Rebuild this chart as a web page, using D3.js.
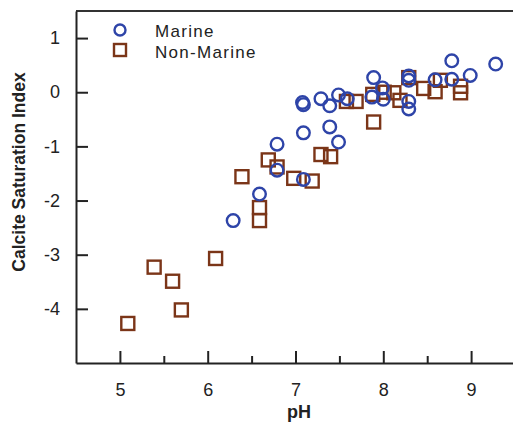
<!DOCTYPE html>
<meta charset="utf-8">
<style>
body { margin: 0; background: #fff; }
text { font-family: "Liberation Sans", Arial, sans-serif; fill: #222; }
.axis path, .axis line { stroke: #222; stroke-width: 2px; }
.axis text { font-size: 18px; }
</style>
<body>
<script src="https://d3js.org/d3.v7.min.js"></script>
<script>

// Marine samples (pH, calcite saturation index)
var marinePH = [6.29, 6.59, 6.79, 6.79, 7.09, 7.09, 7.08, 7.09, 7.29, 7.39, 7.39, 7.49, 7.49, 7.59,
                7.89, 7.87, 7.99, 8.00, 8.29, 8.29, 8.29, 8.29, 8.59, 8.78, 8.78, 8.99, 9.28];
var marineSI = [-2.37, -1.88, -0.96, -1.44, -1.61, -0.75, -0.19, -0.23, -0.12, -0.25, -0.64, -0.92, -0.05, -0.12,
                0.27, -0.09, 0.08, -0.13, 0.30, 0.22, -0.17, -0.31, 0.23, 0.58, 0.24, 0.31, 0.52];

// Non-marine samples
var nonMarinePH = [5.09, 5.39, 5.60, 5.70, 6.09, 6.39, 6.59, 6.59, 6.69, 6.79, 6.98, 7.19, 7.29, 7.40,
                   7.58, 7.69, 7.89, 7.88, 8.01, 8.12, 8.19, 8.29, 8.46, 8.59, 8.65, 8.88, 8.88];
var nonMarineSI = [-4.27, -3.23, -3.49, -4.02, -3.07, -1.56, -2.13, -2.37, -1.25, -1.38, -1.59, -1.64, -1.15, -1.19,
                   -0.17, -0.17, -0.55, -0.04, 0.00, -0.01, -0.15, 0.27, 0.07, 0.01, 0.22, 0.11, -0.01];

var xTicks = [5, 6, 7, 8, 9];
var xMinorTicks = [5.5, 6.5, 7.5, 8.5];
var yTicks = [-4, -3, -2, -1, 0, 1];
var seriesNames = ["Marine", "Non-Marine"];

var blue = "#2e44a8", brown = "#7b3518";

var width = 513, height = 423;
var svg = d3.select("body").append("svg")
    .attr("width", width)
    .attr("height", height);

var x = d3.scaleLinear().domain([4.5, 9.5]).range([76, 515]);
var y = d3.scaleLinear().domain([-5, 1.5]).range([363, 11]);

// plain integer labels with a hyphen minus
var fmt = function(d) { return String(d); };

// top frame line
svg.append("line")
    .attr("x1", x(4.5)).attr("x2", width)
    .attr("y1", y(1.5)).attr("y2", y(1.5))
    .attr("stroke", "#333").attr("stroke-width", 2);

// minor x ticks
svg.append("g")
    .attr("class", "axis")
    .attr("transform", "translate(0," + y(-5) + ")")
    .call(d3.axisBottom(x).tickValues(xMinorTicks).tickSize(-7).tickFormat(""))
    .select(".domain").remove();

// x axis
svg.append("g")
    .attr("class", "axis")
    .attr("transform", "translate(0," + y(-5) + ")")
    .call(d3.axisBottom(x).tickValues(xTicks).tickFormat(fmt).tickSizeInner(-12).tickSizeOuter(0).tickPadding(20));

// y axis
svg.append("g")
    .attr("class", "axis")
    .attr("transform", "translate(" + x(4.5) + ",0)")
    .call(d3.axisLeft(y).tickValues(yTicks).tickFormat(fmt).tickSizeInner(-12).tickSizeOuter(0).tickPadding(16));

// axis titles
svg.append("text")
    .attr("x", 299).attr("y", 418)
    .attr("text-anchor", "middle")
    .style("font-size", "18px").style("font-weight", "bold")
    .text("pH");

svg.append("text")
    .attr("transform", "translate(25,172) rotate(-90)")
    .attr("text-anchor", "middle")
    .style("font-size", "17.5px").style("font-weight", "bold")
    .text("Calcite Saturation Index");

// non-marine squares
var sq = 13;
svg.append("g").selectAll("rect")
    .data(nonMarinePH.map(function(d, i) { return {x: d, y: nonMarineSI[i]}; }))
    .enter().append("rect")
    .attr("x", function(d) { return x(d.x) - sq / 2; })
    .attr("y", function(d) { return y(d.y) - sq / 2; })
    .attr("width", sq).attr("height", sq)
    .attr("fill", "none").attr("stroke", brown).attr("stroke-width", 2.4);

// marine circles
svg.append("g").selectAll("circle")
    .data(marinePH.map(function(d, i) { return {x: d, y: marineSI[i]}; }))
    .enter().append("circle")
    .attr("cx", function(d) { return x(d.x); })
    .attr("cy", function(d) { return y(d.y); })
    .attr("r", 6.3)
    .attr("fill", "none").attr("stroke", blue).attr("stroke-width", 2.4);

// legend
var legend = svg.append("g");
legend.append("circle")
    .attr("cx", 120).attr("cy", 30).attr("r", 5.5)
    .attr("fill", "none").attr("stroke", blue).attr("stroke-width", 2.4);
legend.append("rect")
    .attr("x", 114).attr("y", 44).attr("width", 12).attr("height", 12)
    .attr("fill", "none").attr("stroke", brown).attr("stroke-width", 2.4);
legend.selectAll("text.lbl")
    .data(seriesNames)
    .enter().append("text")
    .attr("class", "lbl")
    .attr("x", 155)
    .attr("y", function(d, i) { return 37 + i * 20.5; })
    .style("font-size", "17px")
    .style("letter-spacing", "1.3px")
    .text(function(d) { return d; });

</script>
</body>
